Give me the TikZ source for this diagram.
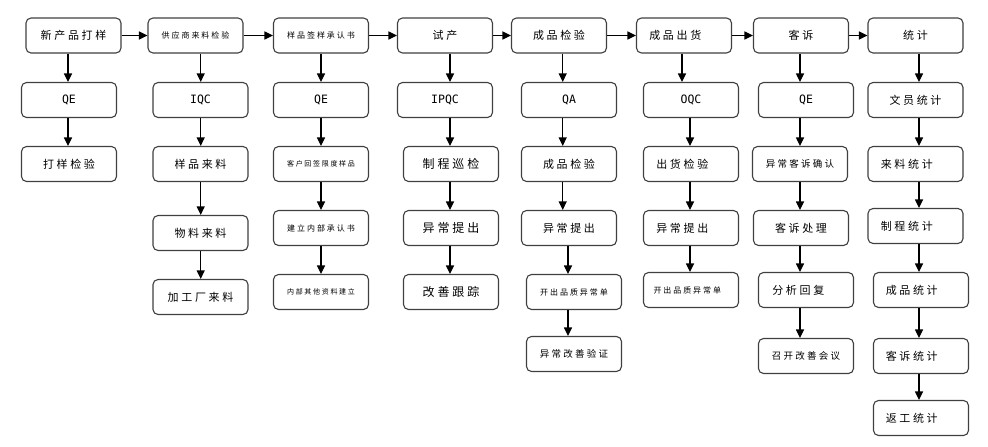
\documentclass[tikz,border=0pt]{standalone}
\usepackage{fontspec}
\setmainfont{Noto Sans CJK SC}[LetterSpace=24]
\newfontfamily\lat{DejaVu Sans Mono}
\usetikzlibrary{arrows.meta}
\newcommand\tsh[2]{\hspace*{-#1pt}#2\hspace*{#1pt}}
\tikzset{
  box/.style={draw=black!75, line width=1.1pt, rounded corners=5pt, minimum width=95pt, minimum height=35pt, inner sep=0pt, fill=white, font=\fontsize{11}{13}\selectfont},
  sm/.style={font=\fontsize{8}{10}\selectfont},
  xs/.style={font=\fontsize{7}{9}\selectfont},
  md/.style={font=\fontsize{9.5}{11}\selectfont},
  lg/.style={font=\fontsize{12}{14}\selectfont},
  la/.style={font=\lat\fontsize{11.5}{13}\selectfont},
  arr/.style={draw=black, line width=1.1pt, -{Triangle[length=8.5pt,width=8pt]}}
}
\begin{document}
\begin{tikzpicture}[x=1pt,y=-1pt]
\useasboundingbox (0,0) rectangle (988,447);
% column 1
\node[box] (a1) at (73.5,35.5) {新产品打样};
\node[box,la] (a2) at (69,100) {QE};
\node[box] (a3) at (69,164) {打样检验};
% column 2
\node[box,sm] (b1) at (195.5,35.5) {供应商来料检验};
\node[box,la] (b2) at (200.5,100) {IQC};
\node[box] (b3) at (200.5,164) {样品来料};
\node[box] (b4) at (200.5,233) {物料来料};
\node[box] (b5) at (200.5,297) {加工厂来料};
% column 3
\node[box,sm] (c1) at (321,35.5) {样品签样承认书};
\node[box,la] (c2) at (321,100) {QE};
\node[box,xs] (c3) at (321,164) {客户回签限度样品};
\node[box,sm] (c4) at (321,228) {建立内部承认书};
\node[box,xs] (c5) at (321,292) {内部其他资料建立};
% column 4
\node[box] (d1) at (445,35.5) {试产};
\node[box,la] (d2) at (445,100) {IPQC};
\node[box,lg] (d3) at (451,164) {制程巡检};
\node[box,lg] (d4) at (451,228) {异常提出};
\node[box,lg] (d5) at (451,292) {改善跟踪};
% column 5
\node[box] (e1) at (559,35.5) {成品检验};
\node[box,la] (e2) at (569,100) {QA};
\node[box] (e3) at (569,164) {成品检验};
\node[box] (e4) at (569,228) {异常提出};
\node[box,sm] (e5) at (574,292) {开出品质异常单};
\node[box,md] (e6) at (574,354) {异常改善验证};
% column 6
\node[box] (f1) at (684,35.5) {\tsh{8.7}{成品出货}};
\node[box,la] (f2) at (691,100) {OQC};
\node[box] (f3) at (691,164) {\tsh{8.7}{出货检验}};
\node[box] (f4) at (691,228) {\tsh{8.7}{异常提出}};
\node[box,sm] (f5) at (691,290) {\tsh{3.7}{开出品质异常单}};
% column 7
\node[box] (g1) at (801,35.5) {客诉};
\node[box,la] (g2) at (806,100) {QE};
\node[box,md] (g3) at (800,164) {异常客诉确认};
\node[box] (g4) at (801,228) {客诉处理};
\node[box] (g5) at (806,290) {\tsh{7.7}{分析回复}};
\node[box,md] (g6) at (806,356) {召开改善会议};
% column 8
\node[box] (h1) at (915.5,35.5) {统计};
\node[box] (h2) at (915.5,100) {文员统计};
\node[box] (h3) at (915.5,164) {\tsh{8.7}{来料统计}};
\node[box] (h4) at (915.5,226) {\tsh{8.7}{制程统计}};
\node[box] (h5) at (921,290) {\tsh{9.3}{成品统计}};
\node[box] (h6) at (921,356) {\tsh{9.3}{客诉统计}};
\node[box] (h7) at (921,418) {\tsh{9.3}{返工统计}};
% column x positions for vertical connectors
\coordinate (xa) at (68,0);
\coordinate (xb) at (200.7,0);
\coordinate (xc) at (321,0);
\coordinate (xd) at (450,0);
\coordinate (xe) at (562.7,0);
\coordinate (xee) at (568,0);
\coordinate (xf) at (682,0);
\coordinate (xff) at (690,0);
\coordinate (xg) at (800,0);
\coordinate (xh) at (919,0);
% horizontal connectors
\foreach \p/\q in {a1/b1,b1/c1,c1/d1,d1/e1,e1/f1,f1/g1,g1/h1}
  \draw[arr] (\p.east) -- (\q.west);
% vertical connectors
\foreach \p/\q/\x in {a1/a2/xa,a2/a3/xa,
  b1/b2/xb,b2/b3/xb,b3/b4/xb,b4/b5/xb,
  c1/c2/xc,c2/c3/xc,c3/c4/xc,c4/c5/xc,
  d1/d2/xd,d2/d3/xd,d3/d4/xd,d4/d5/xd,
  e1/e2/xe,e2/e3/xe,e3/e4/xe,e4/e5/xee,e5/e6/xee,
  f1/f2/xf,f2/f3/xff,f3/f4/xff,f4/f5/xff,
  g1/g2/xg,g2/g3/xg,g3/g4/xg,g4/g5/xg,g5/g6/xg,
  h1/h2/xh,h2/h3/xh,h3/h4/xh,h4/h5/xh,h5/h6/xh,h6/h7/xh}
  \draw[arr] (\p.south -| \x) -- (\q.north -| \x);
\end{tikzpicture}
\end{document}
